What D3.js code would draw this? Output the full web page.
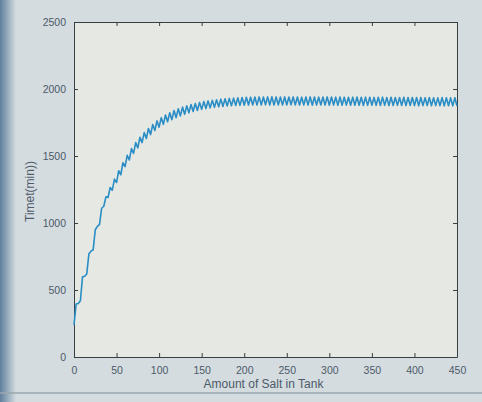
<!DOCTYPE html>
<html>
<head>
<meta charset="utf-8">
<script src="https://cdn.jsdelivr.net/npm/d3@7"></script>
<style>
  html, body { margin: 0; padding: 0; background: #d4dcdf; }
  svg { display: block; font-family: "Liberation Sans", Arial, sans-serif; }
</style>
</head>
<body>
<div id="chart"></div>
<script>
// amount of salt is sampled every 2.5 units, starting at 0
const amountStep = 2.5;

// time (min), one value per sample
const time = [
  240, 395, 400, 420, 598, 602, 620, 770, 790, 800,
  950, 975, 990, 1110, 1125, 1195, 1190, 1265, 1245, 1328,
  1302, 1390, 1360, 1450, 1420, 1505, 1470, 1555, 1520, 1600,
  1560, 1640, 1600, 1675, 1630, 1705, 1660, 1735, 1690, 1762,
  1715, 1786, 1736, 1806, 1755, 1823, 1771, 1839, 1786, 1853,
  1799, 1865, 1811, 1875, 1822, 1884, 1832, 1892, 1840, 1900,
  1848, 1906, 1854, 1911, 1859, 1916, 1863, 1920, 1867, 1924,
  1870, 1927, 1873, 1930, 1875, 1932, 1877, 1934, 1878, 1936,
  1879, 1938, 1880, 1939, 1881, 1940, 1880, 1941, 1881, 1940,
  1882, 1941, 1881, 1942, 1880, 1941, 1881, 1940, 1880, 1941,
  1881, 1940, 1882, 1941, 1881, 1940, 1880, 1939, 1881, 1940,
  1880, 1941, 1879, 1940, 1880, 1939, 1881, 1940, 1880, 1941,
  1879, 1940, 1880, 1939, 1878, 1940, 1879, 1939, 1880, 1938,
  1879, 1939, 1878, 1940, 1879, 1938, 1877, 1939, 1878, 1938,
  1879, 1937, 1878, 1938, 1877, 1939, 1878, 1937, 1876, 1938,
  1877, 1937, 1878, 1936, 1877, 1938, 1876, 1937, 1877, 1936,
  1876, 1937, 1875, 1936, 1876, 1935, 1877, 1936, 1875, 1935,
  1876, 1934, 1875, 1936, 1874, 1935, 1875, 1934, 1874, 1935,
  1873
];

const xTicks = [0, 50, 100, 150, 200, 250, 300, 350, 400, 450];
const yTicks = [0, 500, 1000, 1500, 2000, 2500];

const xLabel = "Amount of Salt in Tank";
const yLabel = "Timet(min))";

const width = 482;
const height = 402;
const margin = { top: 22, right: 25, bottom: 45, left: 74 };
const plotW = width - margin.left - margin.right;
const plotH = height - margin.top - margin.bottom;

const svg = d3.select("#chart")
  .append("svg")
  .attr("width", width)
  .attr("height", height)
  .attr("viewBox", `0 0 ${width} ${height}`);

// screen edge on the left of the photo
const edge = svg.append("defs").append("linearGradient")
  .attr("id", "edge");
edge.append("stop").attr("offset", "0%").attr("stop-color", "#5f7f9e");
edge.append("stop").attr("offset", "100%").attr("stop-color", "#d4dcdf");
svg.append("rect")
  .attr("x", 0).attr("y", 0)
  .attr("width", 16).attr("height", height)
  .attr("fill", "url(#edge)");

// window border near the bottom
svg.append("line")
  .attr("x1", 0).attr("x2", width)
  .attr("y1", 393).attr("y2", 393)
  .attr("stroke", "#9aa7ad")
  .attr("stroke-width", 1.5);

const x = d3.scaleLinear([0, 450], [0, plotW]);
const y = d3.scaleLinear([0, 2500], [plotH, 0]);

const g = svg.append("g")
  .attr("transform", `translate(${margin.left},${margin.top})`);

g.append("rect")
  .attr("width", plotW)
  .attr("height", plotH)
  .attr("fill", "#e6e9e3");

// MATLAB style box with inward ticks on all four sides
const axisColor = "#3a3f44";
const textColor = "#4d5a6a";
const fmt = d3.format("d");

const styleAxis = (sel) => {
  sel.select(".domain").attr("stroke", axisColor);
  sel.selectAll(".tick line").attr("stroke", axisColor);
};

g.append("g")
  .attr("transform", `translate(0,${plotH})`)
  .call(d3.axisBottom(x).tickValues(xTicks).tickFormat(fmt).tickSizeInner(-4).tickSizeOuter(0).tickPadding(10))
  .call(styleAxis)
  .call(s => s.selectAll("text").attr("fill", textColor).attr("font-size", 10.5));

g.append("g")
  .call(d3.axisTop(x).tickValues(xTicks).tickSizeInner(-4).tickSizeOuter(0).tickFormat(""))
  .call(styleAxis);

g.append("g")
  .call(d3.axisLeft(y).tickValues(yTicks).tickFormat(fmt).tickSizeInner(-4).tickSizeOuter(0).tickPadding(8))
  .call(styleAxis)
  .call(s => s.selectAll("text").attr("fill", textColor).attr("font-size", 10.5));

g.append("g")
  .attr("transform", `translate(${plotW},0)`)
  .call(d3.axisRight(y).tickValues(yTicks).tickSizeInner(-4).tickSizeOuter(0).tickFormat(""))
  .call(styleAxis);

// the curve
const line = d3.line()
  .x((d, i) => x(i * amountStep))
  .y(d => y(d));

g.append("path")
  .datum(time)
  .attr("fill", "none")
  .attr("stroke", "#2a8dc6")
  .attr("stroke-width", 1.6)
  .attr("stroke-linejoin", "round")
  .attr("d", line);

// axis labels
svg.append("text")
  .attr("x", margin.left + plotW / 2 - 2)
  .attr("y", 388)
  .attr("text-anchor", "middle")
  .attr("font-size", 12)
  .attr("fill", textColor)
  .text(xLabel);

svg.append("text")
  .attr("transform", `translate(34,${margin.top + plotH / 2 + 2}) rotate(-90)`)
  .attr("text-anchor", "middle")
  .attr("font-size", 12)
  .attr("fill", textColor)
  .text(yLabel);
</script>
</body>
</html>
